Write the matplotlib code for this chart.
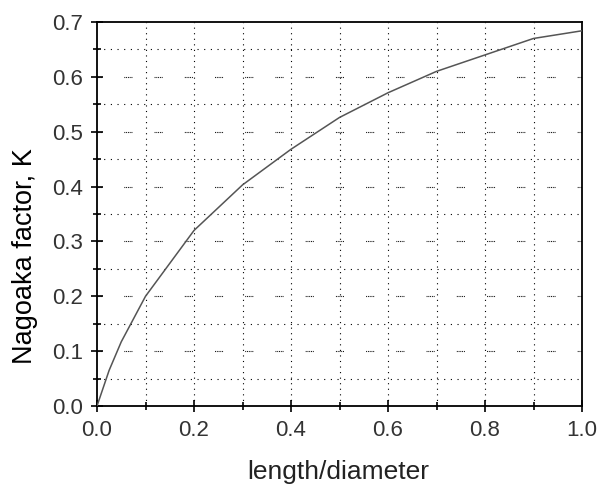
import matplotlib
matplotlib.use("Agg")
import matplotlib.pyplot as plt
import numpy as np

ratio = [0.0, 0.025, 0.05, 0.1, 0.2, 0.3, 0.4, 0.5, 0.6, 0.7, 0.8, 0.9, 1.0]
nagaoka_k = [0.0, 0.065, 0.117, 0.200, 0.320, 0.403, 0.468, 0.526, 0.571, 0.610, 0.640, 0.670, 0.684]

x_ticks = [0.0, 0.2, 0.4, 0.6, 0.8, 1.0]
y_ticks = [0.0, 0.1, 0.2, 0.3, 0.4, 0.5, 0.6, 0.7]

plt.rcParams['font.family'] = ['Liberation Sans', 'DejaVu Sans']

fig = plt.figure(figsize=(6.01, 4.84), dpi=100)
ax = fig.add_axes([97/601, 1-406/484, (582-97)/601, (406-22)/484])

# grid
for xv in np.arange(0.1, 1.0, 0.1):
    ax.axvline(xv, color='black', lw=0.8, ls=(0, (1, 4)), zorder=1)
for i, yv in enumerate(np.arange(0.05, 0.7, 0.05)):
    if i % 2 == 0:
        ax.axhline(yv, color='black', lw=0.8, ls=(0, (1, 5)), zorder=1)
    else:
        ax.axhline(yv, color='black', lw=0.8,
                   ls=(3, (0.8, 0.8, 0.8, 0.8, 0.8, 0.8, 0.8, 0.8, 0.8, 20)), zorder=1)

ax.plot(ratio, nagaoka_k, color='#555555', lw=1.1, zorder=3)

ax.set_xlim(0, 1.0)
ax.set_ylim(0, 0.7)
ax.set_xticks(x_ticks)
ax.set_xticklabels([f"{v:.1f}" for v in x_ticks])
ax.set_yticks(y_ticks)
ax.set_yticklabels([f"{v:.1f}" for v in y_ticks])
ax.set_xticks(np.arange(0.1, 1.0, 0.2), minor=True)
ax.set_yticks(np.arange(0.05, 0.7, 0.1), minor=True)
ax.tick_params(which='both', direction='inout', length=8, width=1.2,
               labelsize=16, labelcolor='#333333', top=False, right=False)
ax.tick_params(which='minor', length=6)
ax.tick_params(axis='x', pad=6)
ax.tick_params(axis='y', pad=6)
for s in ax.spines.values():
    s.set_linewidth(1.3)

ax.set_xlabel('length/diameter', fontsize=19, color='#222222')
ax.xaxis.set_label_coords((338 - 97) / (582 - 97), (406 - 472) / (406 - 22), transform=ax.transAxes)
ax.xaxis.label.set_va('center')
ax.set_ylabel('Nagoaka factor, K', fontsize=19.5, color='black')
ax.yaxis.set_label_coords((25 - 97) / (582 - 97), (406 - 256) / (406 - 22), transform=ax.transAxes)
ax.yaxis.label.set_va('center')

fig.savefig('out.png', dpi=100)
